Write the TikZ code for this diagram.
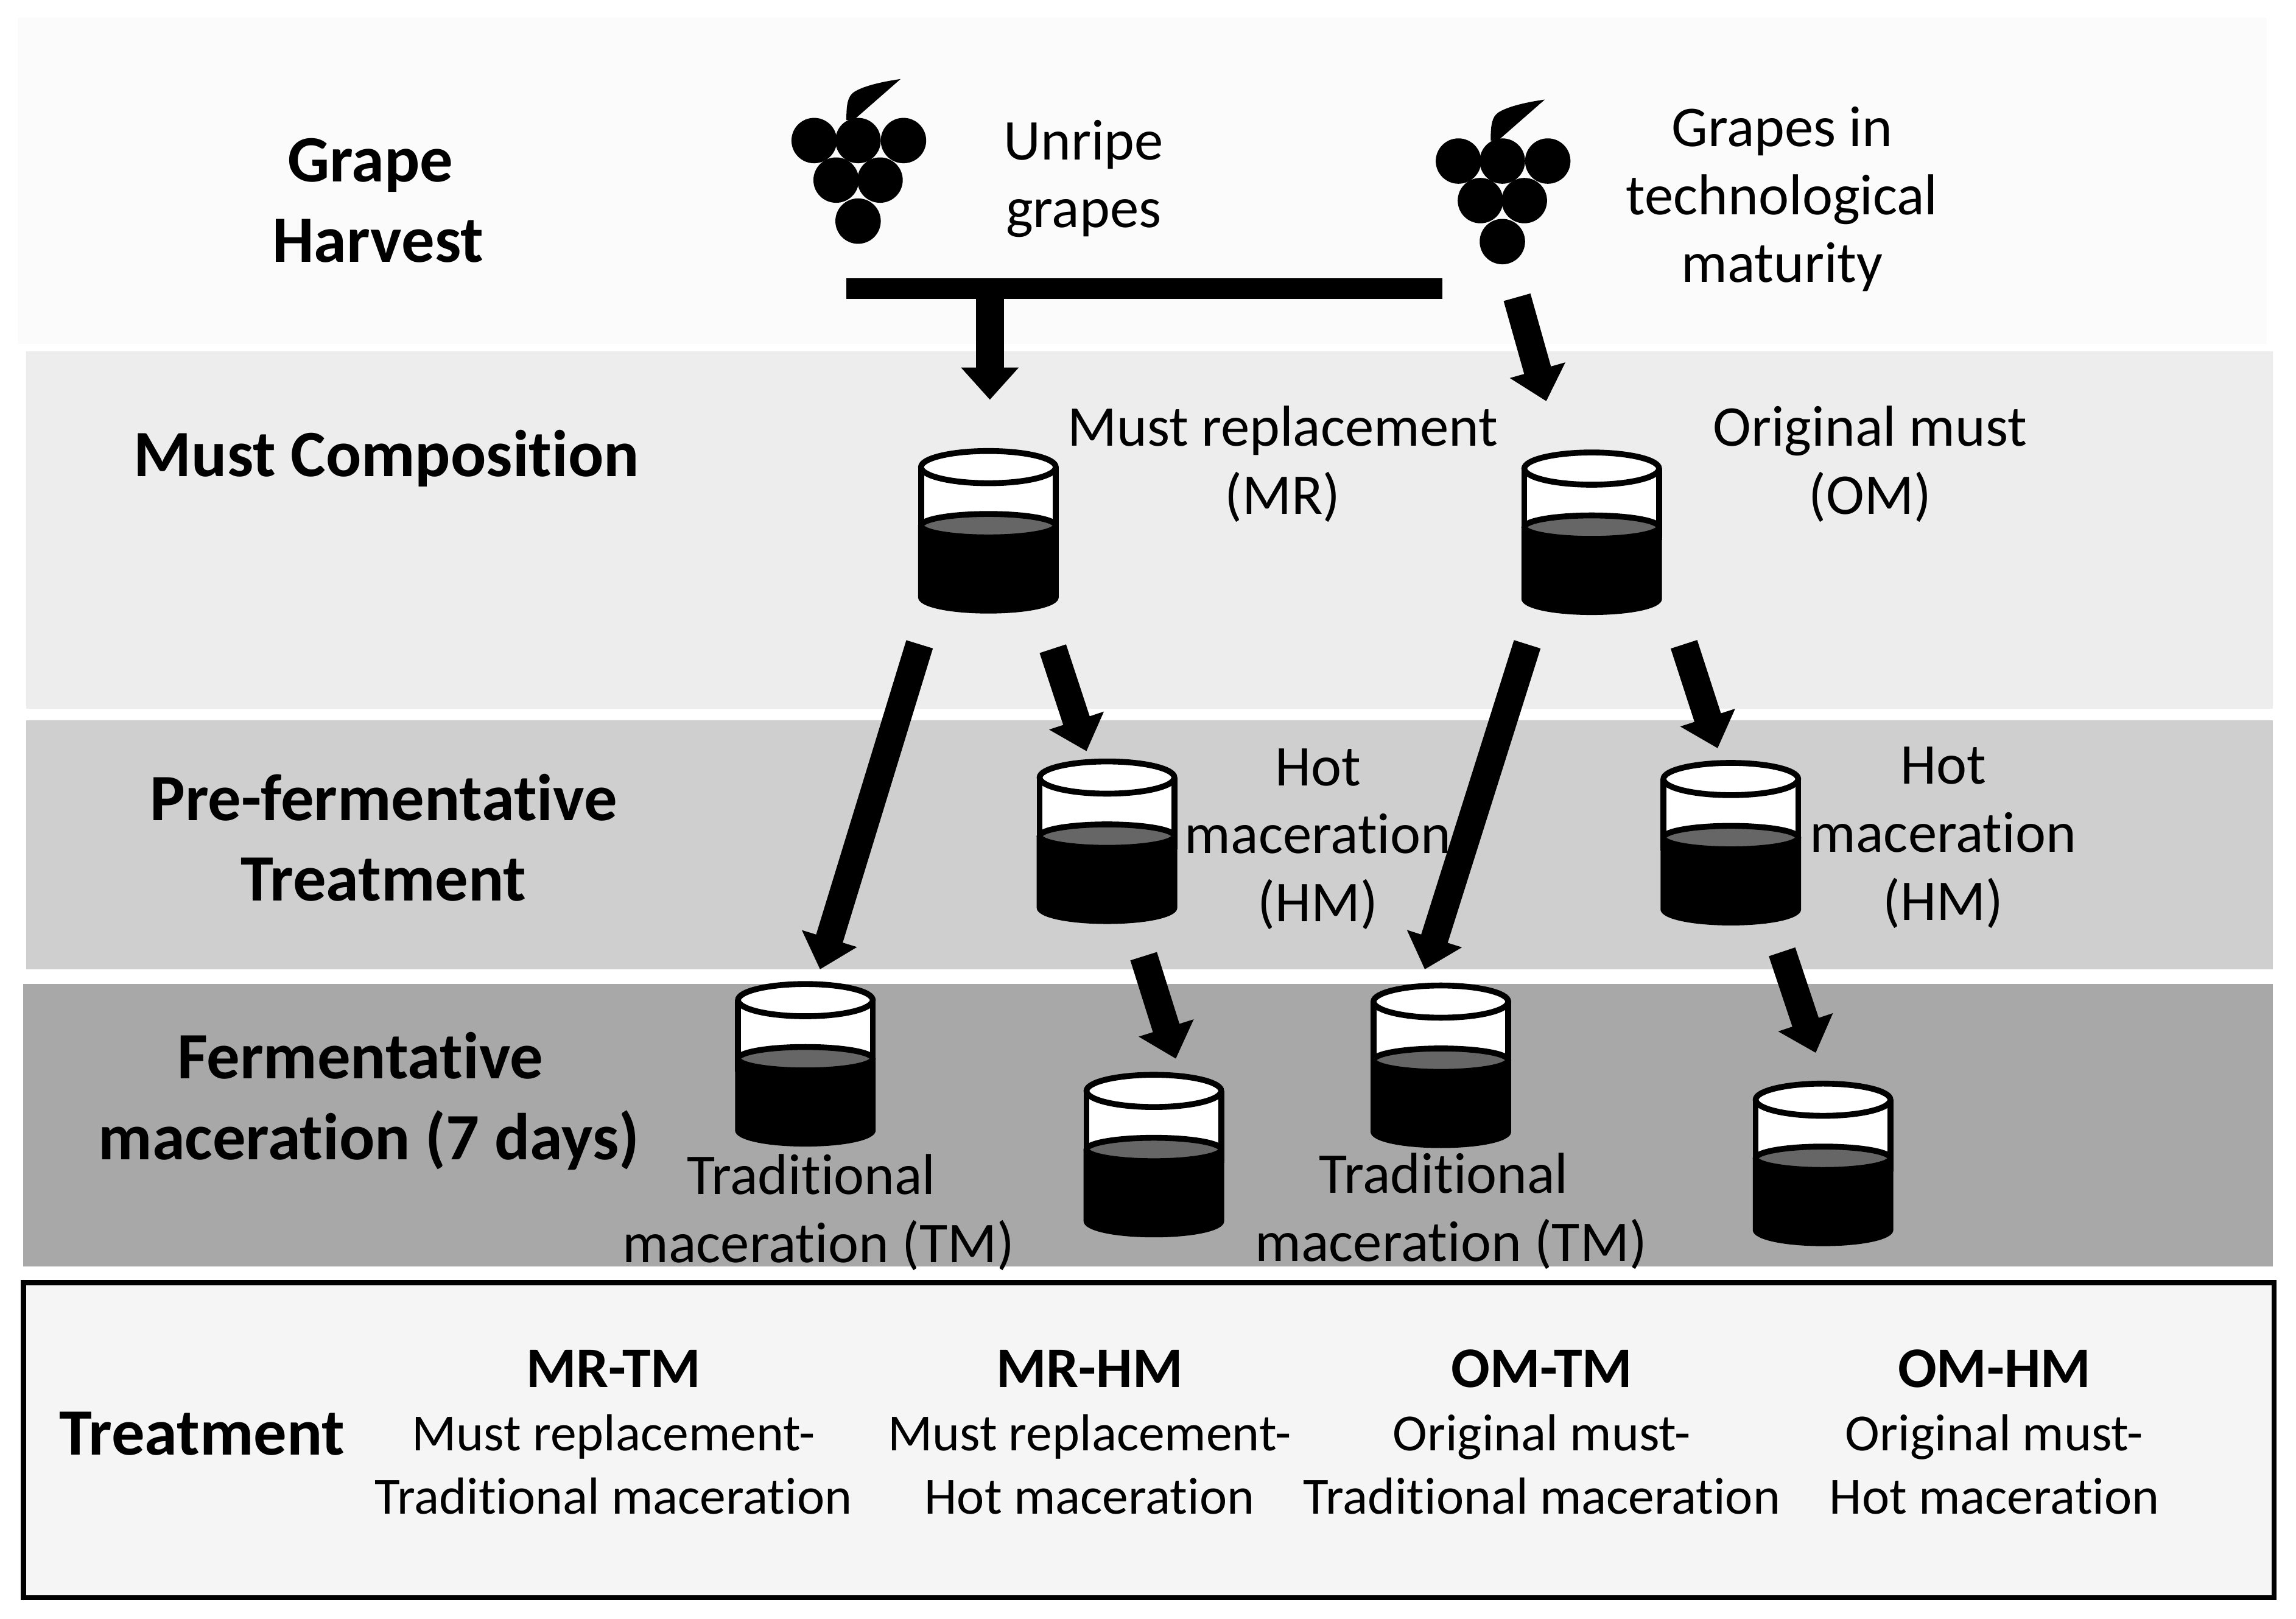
\documentclass[tikz,border=0pt]{standalone}
\usepackage{fontspec}
\setmainfont{Carlito}[Ligatures=NoCommon]
\usetikzlibrary{arrows.meta}
\definecolor{bandA}{HTML}{FBFBFB}
\definecolor{bandB}{HTML}{EDEDED}
\definecolor{bandC}{HTML}{CFCFCF}
\definecolor{bandD}{HTML}{A8A8A8}
\definecolor{bandE}{HTML}{F5F5F5}
\definecolor{liquidtop}{HTML}{666666}
\tikzset{
  beaker/.pic={
    \draw[fill=white, line width=2pt] (-46,13) -- (-46,60) -- (46,60) -- (46,13);
    \draw[fill=white, line width=2pt] (0,13) ellipse [x radius=46, y radius=11];
    \fill (-48,53) -- (-48,102) .. controls (-48,109) and (-25,113) .. (0,113)
      .. controls (25,113) and (48,109) .. (48,102) -- (48,53) -- cycle;
    \draw[fill=liquidtop, line width=2pt] (0,53) ellipse [x radius=46, y radius=8];
  },
  bunch/.pic={
    \fill (-8,-14) .. controls (-8,-25) and (-7,-30) .. (-3,-33)
      .. controls (3,-37) and (15,-40) .. (29,-42) -- (-3,-14) -- cycle;
    \fill (-30,0) circle [radius=15.5];
    \fill (0,0) circle [radius=15.5];
    \fill (31,0) circle [radius=15.5];
    \fill (-15,27) circle [radius=15.5];
    \fill (15,27) circle [radius=15.5];
    \fill (0,55) circle [radius=15.5];
  }
}
\begin{document}
\begin{tikzpicture}[x=0.5pt, y=-0.5pt,
    lbl/.style={align=center, inner sep=0pt, font=\fontsize{19.7}{23.2}\selectfont},
    head/.style={align=center, inner sep=0pt, font=\fontsize{22.6}{27.5}\selectfont\bfseries},
    treat/.style={align=center, inner sep=0pt, font=\fontsize{17.8}{21.6}\selectfont},
    flow/.style={line width=9.5pt, -{Triangle[length=11pt,width=19pt]}}]
  \useasboundingbox (0,0) rectangle (1568,1105.6);

  % bands
  \fill[bandA] (12,12) rectangle (1548,235);
  \fill[bandB] (18,240) rectangle (1552,484);
  \fill[bandC] (18,492) rectangle (1552,662);
  \fill[bandD] (16,672) rectangle (1552,865);
  \draw[fill=bandE, line width=1.8pt] (16,876) rectangle (1553,1091);

  % row titles
  \node[head] (harvest) at (258,137) {Grape\kern5pt\\Harvest};
  \node[head] (must) at (264,313) {Must Composition};
  \node[head] (prefer) at (262,572) {Pre-fermentative\\Treatment};
  \node[head] (ferm) at (252,752) {Fermentative\kern6pt\\maceration (7 days)};
  \node[head] (treatment) at (138,979) {Treatment};

  % grapes
  \pic at (586,96) {bunch};
  \pic at (1026,110) {bunch};
  \node[lbl] (unripe) at (740,122) {Unripe\\grapes};
  \node[lbl] (ripe) at (1217,136) {Grapes in\\technological\\maturity};

  % beakers
  \pic at (675,306) {beaker};
  \pic at (1087,307) {beaker};
  \pic at (756,518) {beaker};
  \pic at (1182,519) {beaker};
  \pic at (550,670) {beaker};
  \pic at (788,732) {beaker};
  \pic at (984,671) {beaker};
  \pic at (1245,738) {beaker};

  \node[lbl] (mr) at (876,317) {Must replacement\\(MR)};
  \node[lbl] (om) at (1277,317) {Original must\\(OM)};
  \node[lbl] (hmA) at (900,573) {Hot\\maceration\\(HM)};
  \node[lbl] (hmB) at (1327,572) {Hot\\maceration\\(HM)};
  \node[lbl] (tmA) at (559,828) {Traditional\kern5pt\\maceration (TM)};
  \node[lbl] (tmB) at (991,827) {Traditional\kern5pt\\maceration (TM)};

  % arrow ends
  \coordinate (barL) at (578,197);
  \coordinate (barR) at (985,197);
  \coordinate (unripeOut) at (676,197);
  \coordinate (mrIn) at (676,273);
  \coordinate (ripeOut) at (1036,203);
  \coordinate (omIn) at (1056,274);
  \coordinate (mrOutA) at (628,440);
  \coordinate (tmAIn) at (560,662);
  \coordinate (mrOutB) at (719,443);
  \coordinate (hmAIn) at (742,513);
  \coordinate (omOutA) at (1043,440);
  \coordinate (tmBIn) at (973,662);
  \coordinate (omOutB) at (1150,440);
  \coordinate (hmBIn) at (1173,511);
  \coordinate (hmAOut) at (781,653);
  \coordinate (mrhmIn) at (803,723);
  \coordinate (hmBOut) at (1217,650);
  \coordinate (omhmIn) at (1240,719);

  \draw[line width=7pt] (barL) -- (barR);
  \draw[flow] (unripeOut) -- (mrIn);
  \draw[flow] (ripeOut) -- (omIn);
  \draw[flow] (mrOutA) -- (tmAIn);
  \draw[flow] (mrOutB) -- (hmAIn);
  \draw[flow] (omOutA) -- (tmBIn);
  \draw[flow] (omOutB) -- (hmBIn);
  \draw[flow] (hmAOut) -- (mrhmIn);
  \draw[flow] (hmBOut) -- (omhmIn);

  % treatment box
  \node[treat] (mrtm) at (419,978) {{\fontsize{19.6}{21.6}\selectfont\bfseries MR-TM}\\Must replacement-\\Traditional maceration};
  \node[treat] (mrhm) at (744,978) {{\fontsize{19.6}{21.6}\selectfont\bfseries MR-HM}\\Must replacement-\\Hot maceration};
  \node[treat] (omtm) at (1053,978) {{\fontsize{19.6}{21.6}\selectfont\bfseries OM-TM}\\Original must-\\Traditional maceration};
  \node[treat] (omhm) at (1362,978) {{\fontsize{19.6}{21.6}\selectfont\bfseries OM-HM}\\Original must-\\Hot maceration};
\end{tikzpicture}
\end{document}
